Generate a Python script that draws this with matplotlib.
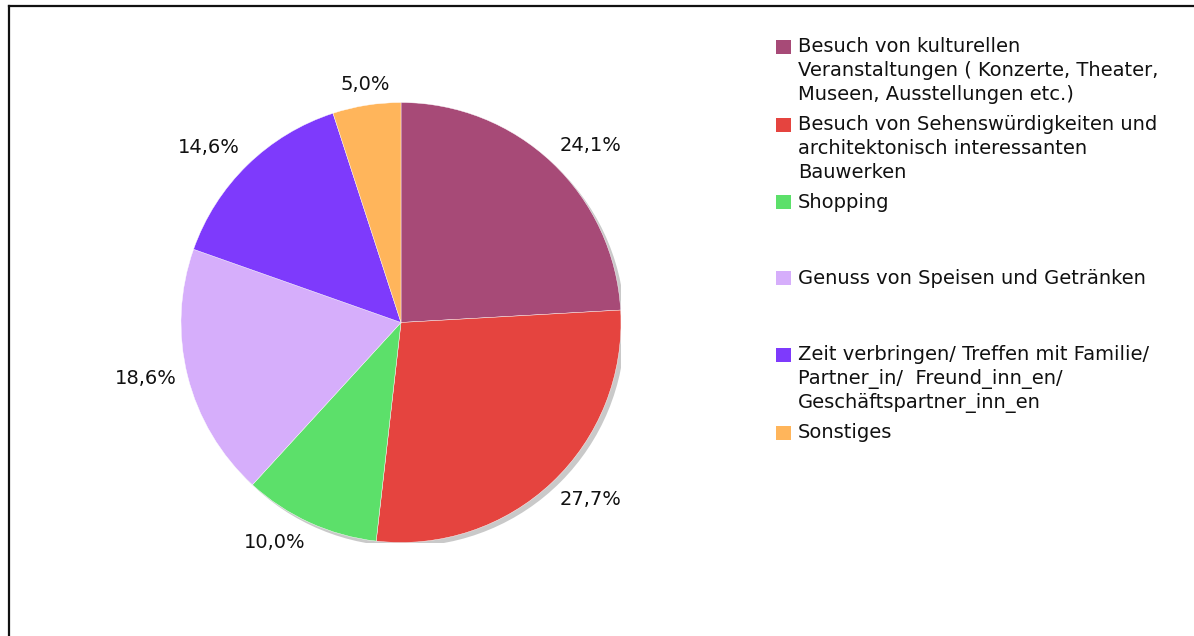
import numpy as np
import matplotlib
matplotlib.use("Agg")
import matplotlib.pyplot as plt
from matplotlib.patches import Circle, Rectangle
from matplotlib.lines import Line2D

# Anteile in Prozent, im Uhrzeigersinn ab 12 Uhr
kategorien = [
    "Besuch von kulturellen\nVeranstaltungen ( Konzerte, Theater,\nMuseen, Ausstellungen etc.)",
    "Besuch von Sehenswürdigkeiten und\narchitektonisch interessanten\nBauwerken",
    "Shopping",
    "Genuss von Speisen und Getränken",
    "Zeit verbringen/ Treffen mit Familie/\nPartner_in/  Freund_inn_en/\nGeschäftspartner_inn_en",
    "Sonstiges",
]
anteile = [24.1, 27.7, 10.0, 18.6, 14.6, 5.0]
farben = ["#A74A77", "#E5443F", "#5CE06A", "#D6AEFB", "#7E3AFC", "#FFB55B"]

W, H = 1194, 636
fig = plt.figure(figsize=(W / 100, H / 100), dpi=100)
fig.patch.set_facecolor("white")

# Rahmen links und oben
fig.add_artist(Line2D([8.5 / W, 8.5 / W], [0, 1 - 5.5 / H], transform=fig.transFigure,
                      color="#111111", lw=1.6))
fig.add_artist(Line2D([8.5 / W, 1], [1 - 5.5 / H, 1 - 5.5 / H], transform=fig.transFigure,
                      color="#111111", lw=1.6))

# Kreisdiagramm, Mittelpunkt bei ca. (401, 323) px, Radius 220 px
cx, cy, r = 401, H - 322.5, 220
ax = fig.add_axes([(cx - r) / W, (cy - r) / H, 2 * r / W, 2 * r / H])

ax.add_patch(Circle((0.018, -0.018), 1.0, facecolor="#c9c9c9", edgecolor="none", zorder=0))

wedges, texts, autotexts = ax.pie(
    anteile,
    colors=farben,
    startangle=90,
    counterclock=False,
    autopct=lambda p: f"{p:.1f}%".replace(".", ","),
    wedgeprops=dict(edgecolor="white", linewidth=0.3),
    textprops=dict(fontsize=14, color="#111111"),
)
for w in wedges:
    w.set_zorder(1)

# Prozentwerte ausserhalb, am Rand des Kreises verankert
for w, t in zip(wedges, autotexts):
    ang = np.deg2rad((w.theta1 + w.theta2) / 2)
    c, s = np.cos(ang), np.sin(ang)
    t.set_position((1.05 * c, 1.05 * s))
    t.set_ha("left" if c > 0.3 else "right" if c < -0.3 else "center")
    t.set_va("bottom" if s > 0.3 else "top" if s < -0.3 else "center")

ax.set_xlim(-1, 1)
ax.set_ylim(-1, 1)
ax.set_aspect("equal")
ax.axis("off")

# Legende
zeilen_y = [47, 125, 202, 278, 355, 433]
for label, farbe, y0 in zip(kategorien, farben, zeilen_y):
    fig.add_artist(Rectangle(((776) / W, 1 - (y0 + 7) / H), 15 / W, 14 / H,
                             transform=fig.transFigure, facecolor=farbe, edgecolor="none"))
    for i, zeile in enumerate(label.split("\n")):
        fig.text(798 / W, 1 - (y0 + 24 * i) / H, zeile, fontsize=14, color="#111111",
                 ha="left", va="center")

fig.savefig("out.png", dpi=100)
